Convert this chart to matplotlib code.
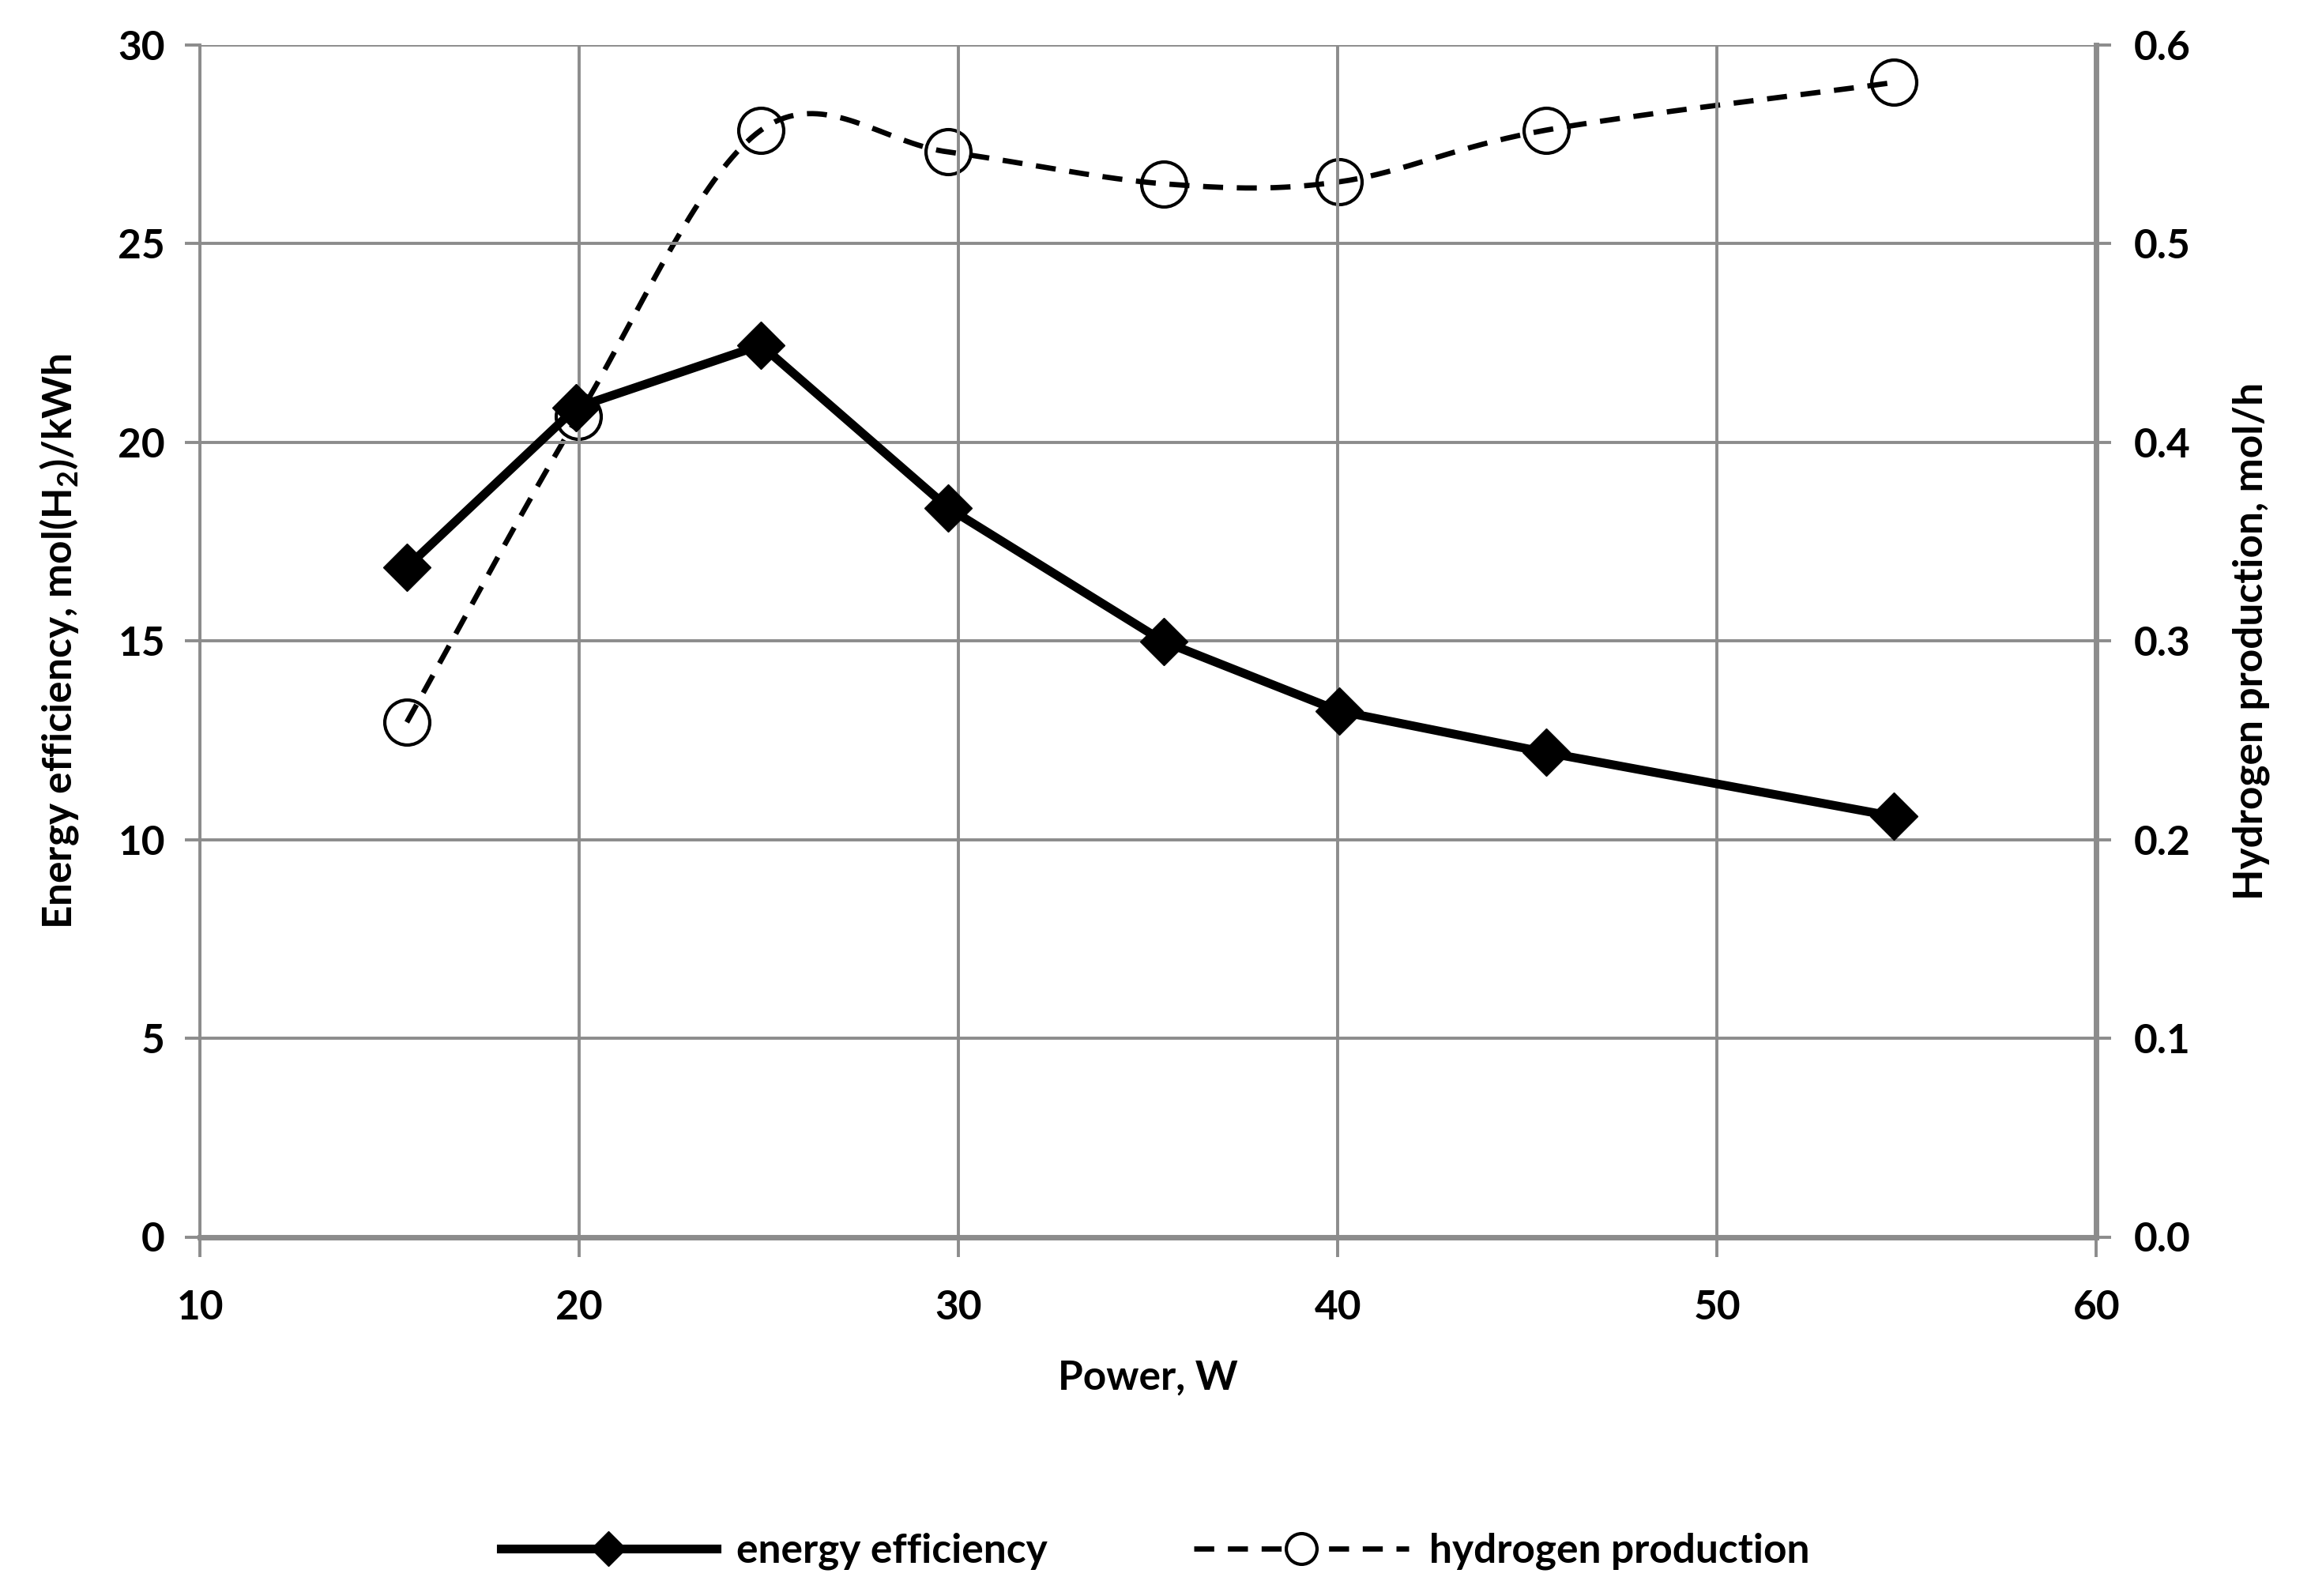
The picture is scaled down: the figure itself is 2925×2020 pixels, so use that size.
import numpy as np
import matplotlib
matplotlib.use("Agg")
import matplotlib.pyplot as plt
from matplotlib.lines import Line2D

# values
power = [15.45, 19.92, 24.79, 29.73, 35.41, 40.04, 45.49, 54.67]
energy_eff = [16.85, 20.87, 22.44, 18.34, 14.98, 13.23, 12.19, 10.58]
h2_power = [15.45, 19.97, 24.79, 29.73, 35.41, 40.04, 45.49, 54.67]
h2_prod = [0.259, 0.413, 0.557, 0.546, 0.530, 0.531, 0.557, 0.581]

GRID = "#8c8c8c"
FONT = ["Lato", "DejaVu Sans"]
FS = 37
DASH = (0, (3.8, 2.6))


def smooth(x, y, n=40):
    """Excel-style smoothed line (Catmull-Rom through the points)."""
    x = np.asarray(x, float); y = np.asarray(y, float)
    px = np.concatenate([[2 * x[0] - x[1]], x, [2 * x[-1] - x[-2]]])
    py = np.concatenate([[2 * y[0] - y[1]], y, [2 * y[-1] - y[-2]]])
    xs, ys = [], []
    t = np.linspace(0, 1, n)
    for i in range(1, len(px) - 2):
        p0, p1, p2, p3 = (np.array([px[j], py[j]]) for j in range(i - 1, i + 3))
        c1 = p1 + (p2 - p0) / 6.0
        c2 = p2 - (p3 - p1) / 6.0
        b = ((1 - t) ** 3)[:, None] * p1 + (3 * (1 - t) ** 2 * t)[:, None] * c1 \
            + (3 * (1 - t) * t ** 2)[:, None] * c2 + (t ** 3)[:, None] * p2
        xs.append(b[:, 0]); ys.append(b[:, 1])
    return np.concatenate(xs), np.concatenate(ys)


plt.rcParams["font.family"] = FONT
plt.rcParams["font.weight"] = "bold"
plt.rcParams["mathtext.fontset"] = "custom"
plt.rcParams["mathtext.rm"] = "Lato:bold"
plt.rcParams["mathtext.default"] = "rm"

fig = plt.figure(figsize=(29.25, 20.2), dpi=100)
ax = fig.add_axes([0.0866, 0.225, 0.8205, 0.747])
ax2 = ax.twinx()

# hydrogen production (right axis), smoothed dashed line + open circles
sx, sy = smooth(h2_power, h2_prod)
ax2.plot(sx, sy, color="black", lw=4.8, ls=DASH, zorder=3)
ax2.plot(h2_power, h2_prod, ls="none", marker="o", ms=41, mfc="none",
         mec="black", mew=3.0, zorder=4)

# energy efficiency (left axis)
ax.plot(power, energy_eff, color="black", lw=8, marker="D", ms=31,
        mfc="black", mec="black", zorder=5)

ax.set_zorder(ax2.get_zorder() + 1)
ax.patch.set_visible(False)

ax.set_xlim(10, 60)
ax.set_ylim(0, 30)
ax2.set_ylim(0, 0.6)
ax.set_xticks(range(10, 61, 10))
ax.set_yticks(range(0, 31, 5))
ax2.set_yticks(np.arange(0, 0.61, 0.1))
ax2.set_yticklabels([f"{v:.1f}" for v in np.arange(0, 0.61, 0.1)])

ax.grid(True, color=GRID, lw=2.8)
ax.set_axisbelow(True)
for a in (ax, ax2):
    a.spines["top"].set_visible(False)
    for s in ("left", "right", "bottom"):
        a.spines[s].set_color(GRID)
ax.spines["left"].set_linewidth(2.8)
ax.spines["bottom"].set_linewidth(5)
ax2.spines["right"].set_linewidth(5)
ax2.spines["left"].set_visible(False)
ax2.spines["bottom"].set_visible(False)

ax.tick_params(axis="both", colors=GRID, labelcolor="black", labelsize=FS,
               length=14, width=2.8, direction="out")
ax.tick_params(axis="y", pad=18)
ax.tick_params(axis="x", pad=30, length=18)
ax2.tick_params(axis="y", colors=GRID, labelcolor="black", labelsize=FS,
                length=14, width=2.8, pad=20)

ax.set_xlabel("Power, W", fontsize=FS, fontweight="bold", labelpad=30)
ax.set_ylabel("Energy efficiency, mol(H$_2$)/kWh", fontsize=FS,
              fontweight="bold", labelpad=34)
ax2.set_ylabel("Hydrogen production, mol/h", fontsize=FS, fontweight="bold",
               labelpad=38)

handles = [
    Line2D([], [], color="black", lw=8, marker="D", ms=22),
    Line2D([], [], color="black", lw=4.8, ls=DASH, marker="o",
           ms=28, mfc="white", mec="black", mew=3.0),
]
fig.legend(handles, ["energy efficiency", "hydrogen production"],
           loc="center", bbox_to_anchor=(0.5, 0.028), ncol=2, frameon=False,
           fontsize=FS, handlelength=5.3, columnspacing=3.6, handletextpad=0.5)

fig.savefig("out.png", dpi=100)
